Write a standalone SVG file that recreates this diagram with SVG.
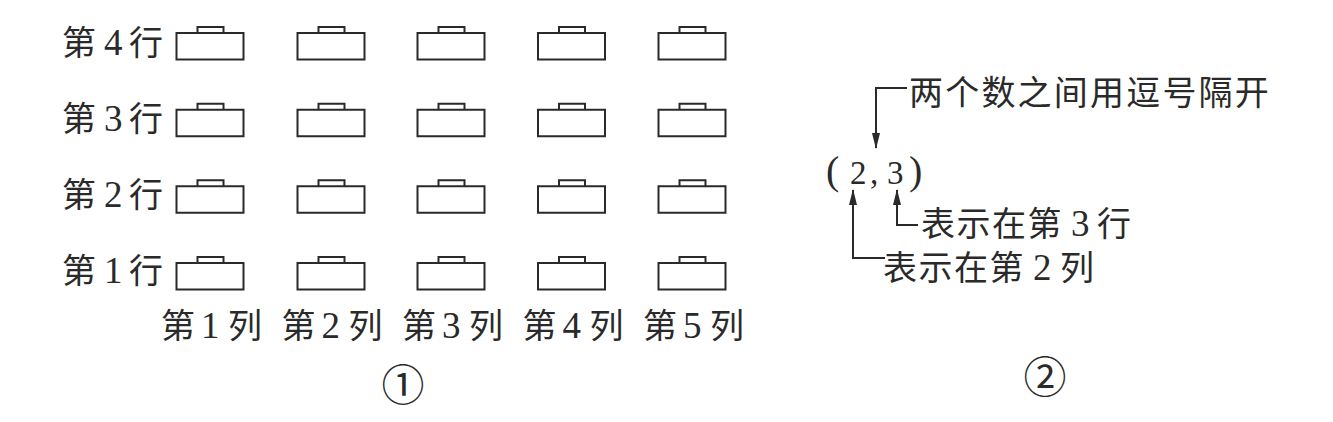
<svg xmlns="http://www.w3.org/2000/svg" width="1333" height="422" viewBox="0 0 1333 422">
<style>
.t{font-family:"Noto Sans CJK SC","Liberation Serif",serif;font-size:34px;fill:#2a2a2a}
.d{font-family:"Liberation Serif",serif;font-size:37px;fill:#2a2a2a}
.c{font-family:"Liberation Serif",serif;font-size:33px;fill:#2a2a2a}
.p{font-family:"Liberation Serif",serif;font-size:40px;fill:#2a2a2a}
.desk{fill:none;stroke:#2a2a2a;stroke-width:2}
.ln{fill:none;stroke:#2a2a2a;stroke-width:2}
</style>
<defs>
<marker id="ah" markerWidth="16" markerHeight="8" refX="15" refY="4" orient="auto" markerUnits="userSpaceOnUse" viewBox="0 0 16 8">
<path d="M0,0 L16,4 L0,8 Z" fill="#2a2a2a"/>
</marker>
<path id="desk" class="desk" d="M0,0 H67 V26.5 H0 Z M21,0 V-6 H47 V0"/>
</defs>
<rect width="1333" height="422" fill="#ffffff"/>
<g id="row-labels">
<text class="t" y="55"><tspan x="62">第</tspan><tspan class="d" x="104">4</tspan><tspan x="129">行</tspan></text>
<text class="t" y="131"><tspan x="62">第</tspan><tspan class="d" x="104">3</tspan><tspan x="129">行</tspan></text>
<text class="t" y="207"><tspan x="62">第</tspan><tspan class="d" x="104">2</tspan><tspan x="129">行</tspan></text>
<text class="t" y="283"><tspan x="62">第</tspan><tspan class="d" x="104">1</tspan><tspan x="129">行</tspan></text>
</g>
<g id="desks">
<g id="r4"><use href="#desk" x="176.5" y="33"/><use href="#desk" x="297.5" y="33"/><use href="#desk" x="417.5" y="33"/><use href="#desk" x="538" y="33"/><use href="#desk" x="658.5" y="33"/></g>
<g id="r3"><use href="#desk" x="176.5" y="109.7"/><use href="#desk" x="297.5" y="109.7"/><use href="#desk" x="417.5" y="109.7"/><use href="#desk" x="538" y="109.7"/><use href="#desk" x="658.5" y="109.7"/></g>
<g id="r2"><use href="#desk" x="176.5" y="186.3"/><use href="#desk" x="297.5" y="186.3"/><use href="#desk" x="417.5" y="186.3"/><use href="#desk" x="538" y="186.3"/><use href="#desk" x="658.5" y="186.3"/></g>
<g id="r1"><use href="#desk" x="176.5" y="263"/><use href="#desk" x="297.5" y="263"/><use href="#desk" x="417.5" y="263"/><use href="#desk" x="538" y="263"/><use href="#desk" x="658.5" y="263"/></g>
</g>
<g id="col-labels">
<text class="t" y="338"><tspan x="161">第</tspan><tspan class="d" x="201">1</tspan><tspan x="228">列</tspan></text>
<text class="t" y="338"><tspan x="281.5">第</tspan><tspan class="d" x="321.5">2</tspan><tspan x="348.5">列</tspan></text>
<text class="t" y="338"><tspan x="402">第</tspan><tspan class="d" x="442">3</tspan><tspan x="469">列</tspan></text>
<text class="t" y="338"><tspan x="522.5">第</tspan><tspan class="d" x="562.5">4</tspan><tspan x="589.5">列</tspan></text>
<text class="t" y="338"><tspan x="643">第</tspan><tspan class="d" x="683">5</tspan><tspan x="710">列</tspan></text>
</g>
<g id="label-1"><text class="t" x="403" y="401" text-anchor="middle" style="font-size:43px">①</text></g>
<g id="coord"><text class="c" y="182"><tspan class="p" x="826" y="184">(</tspan><tspan x="850">2</tspan><tspan x="870">,</tspan><tspan x="887">3</tspan><tspan class="p" x="909" y="184">)</tspan></text></g>
<g id="note-comma"><text class="t" x="909" y="105" letter-spacing="2.2">两个数之间用逗号隔开</text></g>
<g id="note-row"><text class="t" y="236"><tspan x="921" letter-spacing="1.5">表示在第</tspan><tspan class="d" x="1071">3</tspan><tspan x="1097">行</tspan></text></g>
<g id="note-col"><text class="t" y="280"><tspan x="883" letter-spacing="1.5">表示在第</tspan><tspan class="d" x="1033">2</tspan><tspan x="1060">列</tspan></text></g>
<g id="connectors">
<path class="ln" d="M907,88 H876 V148" marker-end="url(#ah)"/>
<path class="ln" d="M885,258 H853 V190" marker-end="url(#ah)"/>
<path class="ln" d="M918,225 H897 V190" marker-end="url(#ah)"/>
</g>
<g id="label-2"><text class="t" x="1045" y="393" text-anchor="middle" style="font-size:43px">②</text></g>
</svg>
